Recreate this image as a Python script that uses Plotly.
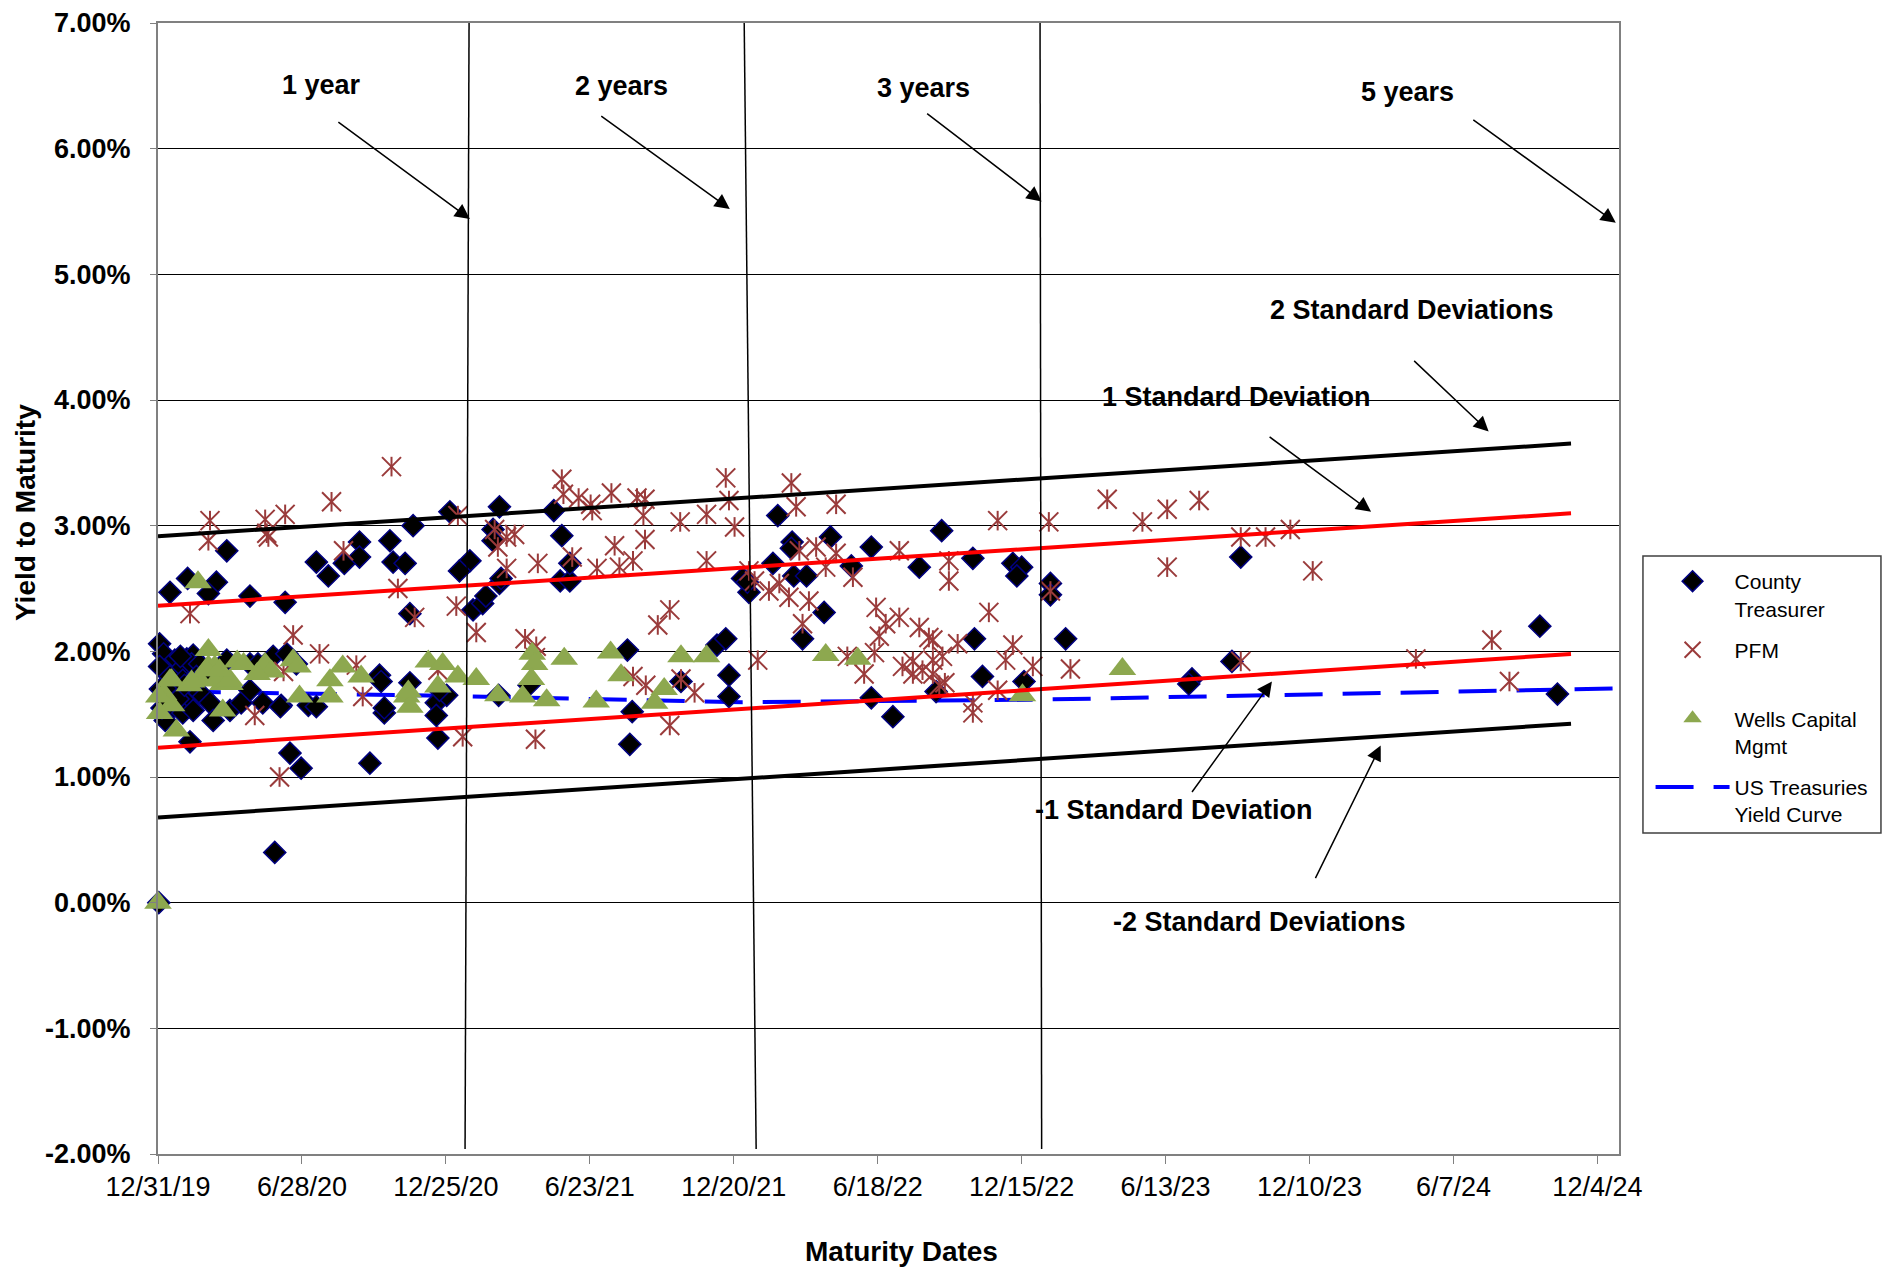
import plotly.graph_objects as go

FONT = "Liberation Sans, Arial, sans-serif"

# maturity date, yield to maturity (%)
county = [
    ("2020-01-02", 2.06), ("2020-01-15", 2.47), ("2020-02-06", 2.58), ("2020-03-13", 2.55),
    ("2020-03-03", 2.46), ("2020-03-26", 2.80), ("2020-04-24", 2.44), ("2020-06-07", 2.39),
    ("2020-07-16", 2.71), ("2020-07-31", 2.60), ("2020-08-20", 2.70), ("2020-09-08", 2.87),
    ("2020-09-08", 2.75), ("2020-10-16", 2.88), ("2020-10-20", 2.71), ("2020-11-04", 2.70),
    ("2020-11-14", 3.00), ("2020-11-10", 2.30), ("2020-12-30", 3.11), ("2021-01-24", 2.72),
    ("2021-01-11", 2.64), ("2021-01-28", 2.33), ("2021-02-09", 2.38), ("2021-02-13", 2.44),
    ("2021-03-02", 2.54), ("2021-03-04", 2.58), ("2021-03-02", 3.15), ("2021-02-22", 2.97),
    ("2021-02-22", 2.88), ("2021-05-09", 3.12), ("2021-05-19", 2.92), ("2021-05-17", 2.56),
    ("2021-05-29", 2.56), ("2021-05-29", 2.70),
    ("2020-01-07", 1.98), ("2020-01-21", 1.93), ("2020-02-05", 1.94), ("2020-02-13", 1.97),
    ("2020-01-09", 1.85), ("2020-01-27", 1.85), ("2020-02-11", 1.90), ("2020-02-21", 1.90),
    ("2020-01-02", 1.88), ("2020-01-15", 1.80), ("2020-01-31", 1.77), ("2020-02-17", 1.80),
    ("2020-01-23", 1.69), ("2020-02-09", 1.69), ("2020-02-21", 1.67), ("2020-01-19", 1.61),
    ("2020-02-05", 1.59), ("2020-02-26", 1.64), ("2020-01-15", 1.53), ("2020-01-31", 1.51),
    ("2020-01-09", 1.45), ("2020-02-13", 1.53), ("2020-03-05", 1.59), ("2020-03-09", 1.45),
    ("2020-03-26", 1.93), ("2020-03-30", 1.53), ("2020-04-13", 1.59), ("2020-04-24", 1.69),
    ("2020-04-24", 1.90), ("2020-05-04", 1.90), ("2020-05-10", 1.59), ("2020-05-23", 1.96),
    ("2020-06-02", 1.57), ("2020-06-09", 1.98), ("2020-06-21", 1.90), ("2020-07-06", 1.57),
    ("2020-07-16", 1.56), ("2020-02-09", 1.28), ("2020-01-03", 1.70), ("2020-01-05", 1.55),
    ("2020-01-12", 1.72), ("2020-01-25", 1.62), ("2020-02-02", 1.73), ("2020-01-28", 1.96),
    ("2020-02-28", 1.83),
    ("2020-10-03", 1.81), ("2020-10-05", 1.76), ("2020-10-09", 1.51), ("2020-10-09", 1.55),
    ("2020-12-13", 1.59), ("2020-12-13", 1.49), ("2020-12-26", 1.65), ("2020-12-15", 1.31),
    ("2020-12-17", 1.69), ("2020-11-10", 1.75), ("2020-06-13", 1.19), ("2020-06-27", 1.07),
    ("2020-09-21", 1.11), ("2020-05-25", 0.40), ("2020-01-01", 0.00), ("2020-06-01", 1.56),
    ("2021-03-01", 1.65), ("2021-04-08", 1.73), ("2021-08-09", 2.01), ("2021-08-12", 1.26),
    ("2021-08-15", 1.52), ("2021-11-29", 2.05), ("2021-12-10", 2.10), ("2021-12-14", 1.81),
    ("2021-12-14", 1.64), ("2021-10-15", 1.76),
    ("2022-02-13", 3.08), ("2022-03-03", 2.87), ("2022-03-02", 2.82), ("2022-02-07", 2.70),
    ("2022-03-05", 2.60), ("2022-03-21", 2.60), ("2022-04-20", 2.91), ("2022-05-16", 2.68),
    ("2022-06-10", 2.83), ("2021-12-31", 2.58), ("2022-01-08", 2.47), ("2022-01-06", 2.55),
    ("2022-04-12", 2.31), ("2022-03-16", 2.10), ("2022-08-09", 2.67), ("2022-09-06", 2.96),
    ("2022-10-15", 2.74), ("2022-12-04", 2.70), ("2022-12-15", 2.67), ("2022-12-09", 2.60),
    ("2023-01-20", 2.54), ("2023-01-20", 2.45), ("2022-10-17", 2.10), ("2023-02-08", 2.10),
    ("2022-06-10", 1.63), ("2022-07-07", 1.48), ("2022-08-30", 1.68), ("2022-10-27", 1.80),
    ("2022-12-18", 1.76), ("2023-09-15", 2.75), ("2023-09-04", 1.92), ("2023-07-16", 1.78),
    ("2023-07-12", 1.74), ("2024-09-23", 2.20), ("2024-10-15", 1.66),
]

pfm = [
    ("2020-02-09", 2.30), ("2020-03-05", 3.04), ("2020-03-03", 2.88), ("2020-05-13", 3.05),
    ("2020-05-17", 2.91), ("2020-05-15", 2.94), ("2020-06-07", 3.09), ("2020-08-04", 3.19),
    ("2020-10-18", 3.47), ("2020-08-19", 2.80), ("2020-06-17", 2.13), ("2020-07-20", 1.98),
    ("2020-10-26", 2.50), ("2020-11-16", 2.27), ("2021-01-09", 3.08), ("2021-01-07", 2.36),
    ("2021-02-01", 2.15), ("2021-02-24", 2.97), ("2021-02-28", 2.83), ("2021-03-11", 2.91),
    ("2021-03-21", 2.93), ("2021-03-11", 2.66), ("2021-04-19", 2.70), ("2021-05-19", 3.37),
    ("2021-05-21", 3.25), ("2021-06-09", 3.22), ("2021-06-24", 3.17), ("2021-06-26", 3.12),
    ("2021-07-20", 3.26), ("2021-06-01", 2.75), ("2021-07-02", 2.66), ("2021-07-24", 2.84),
    ("2021-07-30", 2.67), ("2021-08-16", 2.72), ("2021-04-03", 2.10), ("2021-04-17", 2.04),
    ("2021-04-16", 1.30), ("2021-01-15", 1.32), ("2020-04-30", 1.49), ("2020-05-31", 1.00),
    ("2020-09-12", 1.64), ("2020-09-04", 1.89), ("2020-06-05", 1.84), ("2021-04-16", 1.95),
    ("2020-12-15", 1.85), ("2021-08-16", 1.80), ("2021-09-01", 1.73), ("2021-10-15", 1.78),
    ("2021-11-01", 1.67), ("2021-10-01", 1.41), ("2021-09-16", 2.21), ("2021-10-01", 2.33),
    ("2021-08-21", 3.22), ("2021-08-31", 3.21), ("2021-08-29", 3.08), ("2021-08-31", 2.89),
    ("2021-10-14", 3.03), ("2021-11-16", 3.09), ("2021-12-10", 3.38), ("2021-12-14", 3.20),
    ("2021-12-21", 2.99), ("2021-11-16", 2.72), ("2022-01-19", 1.93), ("2022-03-02", 3.34),
    ("2022-03-08", 3.15), ("2022-04-27", 3.17), ("2022-01-08", 2.64), ("2022-01-15", 2.56),
    ("2022-02-02", 2.48), ("2022-02-15", 2.54), ("2022-02-27", 2.43), ("2022-03-24", 2.40),
    ("2022-03-12", 2.80), ("2022-04-02", 2.83), ("2022-04-14", 2.67), ("2022-04-27", 2.78),
    ("2022-05-18", 2.59), ("2022-03-16", 2.22), ("2022-06-16", 2.35), ("2022-06-28", 2.22),
    ("2022-06-20", 2.12), ("2022-07-15", 2.27), ("2022-07-15", 2.80), ("2022-08-09", 2.19),
    ("2022-08-26", 2.09), ("2022-09-26", 2.06), ("2022-11-04", 2.31), ("2022-09-15", 2.72),
    ("2022-09-15", 2.56), ("2022-11-15", 3.04), ("2023-01-18", 3.03), ("2023-04-01", 3.21),
    ("2023-05-15", 3.03), ("2023-01-20", 2.48), ("2022-05-11", 1.96), ("2022-06-01", 1.82),
    ("2022-06-14", 1.99), ("2022-08-01", 1.92), ("2022-08-01", 1.82), ("2022-08-26", 1.93),
    ("2022-08-26", 1.82), ("2022-09-07", 1.96), ("2022-09-03", 1.73), ("2022-10-15", 1.59),
    ("2022-10-15", 1.51), ("2022-11-15", 1.69), ("2022-11-25", 1.93), ("2022-12-04", 2.05),
    ("2022-12-29", 1.88), ("2023-02-14", 1.86), ("2022-08-21", 2.11), ("2022-07-19", 1.88),
    ("2022-08-13", 1.85), ("2022-09-10", 1.75), ("2023-06-15", 3.13), ("2023-07-25", 3.20),
    ("2023-06-15", 2.67), ("2023-09-15", 2.91), ("2023-10-16", 2.91), ("2023-11-16", 2.97),
    ("2023-12-14", 2.64), ("2023-09-15", 1.92), ("2024-04-21", 1.94), ("2024-07-25", 2.09),
    ("2024-08-16", 1.76),
]

wells = [
    ("2019-12-31", 0.00), ("2020-02-19", 2.55), ("2020-03-03", 2.01), ("2020-03-03", 1.88),
    ("2020-03-11", 1.88), ("2020-03-21", 1.74), ("2020-03-30", 1.74), ("2020-02-21", 1.77),
    ("2020-02-08", 1.73), ("2020-01-17", 1.77), ("2020-01-07", 1.66), ("2020-01-17", 1.57),
    ("2020-01-02", 1.51), ("2020-01-01", 1.64), ("2020-01-23", 1.37), ("2020-04-08", 1.92),
    ("2020-04-16", 1.90), ("2020-05-13", 1.90), ("2020-05-21", 1.84), ("2020-05-03", 1.82),
    ("2020-06-17", 1.93), ("2020-06-23", 1.88), ("2020-03-21", 1.53), ("2020-06-25", 1.64),
    ("2020-08-02", 1.77), ("2020-08-02", 1.64), ("2020-08-18", 1.88), ("2020-09-10", 1.80),
    ("2020-11-06", 1.64), ("2020-11-10", 1.56), ("2020-11-08", 1.68), ("2020-12-03", 1.92),
    ("2020-12-21", 1.90), ("2021-01-09", 1.80), ("2021-02-01", 1.78), ("2020-12-15", 1.72),
    ("2021-02-28", 1.65), ("2021-03-31", 1.64), ("2021-04-12", 1.98), ("2021-04-15", 1.90),
    ("2021-04-11", 1.78), ("2021-04-30", 1.61), ("2021-05-22", 1.94), ("2021-07-01", 1.60),
    ("2021-07-19", 1.99), ("2021-08-01", 1.81), ("2020-01-15", 1.77), ("2020-02-11", 1.76),
    ("2020-03-13", 1.77), ("2020-03-30", 1.77), ("2020-02-29", 1.85), ("2020-03-17", 1.85),
    ("2021-09-12", 1.59), ("2021-09-24", 1.70), ("2021-10-15", 1.96), ("2021-11-16", 1.96),
    ("2022-04-14", 1.97), ("2022-05-24", 1.94), ("2022-12-16", 1.65), ("2023-04-20", 1.86),
]

treasury_dates = ["2020-01-31", "2020-03-31", "2020-06-30", "2020-12-31",
                  "2021-12-31", "2022-12-31", "2024-12-31"]
treasury_yields = [1.68, 1.675, 1.665, 1.645, 1.595, 1.615, 1.705]

band_dates = ["2019-12-31", "2024-11-01"]
plus_2sd = [2.916, 3.653]
plus_1sd = [2.362, 3.098]
minus_1sd = [1.233, 1.979]
minus_2sd = [0.678, 1.424]

y_ticks = [-2, -1, 0, 1, 2, 3, 4, 5, 6, 7]
y_ticklabels = ["-2.00%", "-1.00%", "0.00%", "1.00%", "2.00%",
                "3.00%", "4.00%", "5.00%", "6.00%", "7.00%"]

county_x, county_y = zip(*county)
pfm_x, pfm_y = zip(*pfm)
wells_x, wells_y = zip(*wells)

fig = go.Figure()

fig.add_trace(go.Scatter(
    x=treasury_dates, y=treasury_yields, mode="lines", name="US Treasuries<br>Yield Curve",
    line=dict(color="#0000FF", width=4, dash="38px,20px"),
    legendgroup="ust", legendrank=4))

fig.add_trace(go.Scatter(
    x=county_x, y=county_y, mode="markers", name="County<br>Treasurer", cliponaxis=False,
    marker=dict(symbol="diamond", size=17, color="black", line=dict(color="#000080", width=1.5)),
    legendgroup="county", legendrank=1))

# Excel-style asterisk: an X plus a vertical bar
fig.add_trace(go.Scatter(
    x=pfm_x, y=pfm_y, mode="markers", name="PFM<br>\u00a0",
    marker=dict(symbol="x-thin-open", size=19, color="#9A3B3B", line=dict(color="#9A3B3B", width=2)),
    legendgroup="pfm", legendrank=2))
fig.add_trace(go.Scatter(
    x=pfm_x, y=pfm_y, mode="markers", name="PFM", showlegend=False,
    marker=dict(symbol="line-ns-open", size=14, color="#9A3B3B", line=dict(color="#9A3B3B", width=2)),
    legendgroup="pfm"))

fig.add_trace(go.Scatter(
    x=wells_x, y=wells_y, mode="markers", name="Wells Capital<br>Mgmt", cliponaxis=False,
    marker=dict(symbol="triangle-up", size=24, color="#8DA84F", line=dict(width=0)),
    legendgroup="wells", legendrank=3))

for vals, col in [(plus_2sd, "black"), (plus_1sd, "#FF0000"), (minus_1sd, "#FF0000"), (minus_2sd, "black")]:
    fig.add_trace(go.Scatter(x=band_dates, y=vals, mode="lines", showlegend=False,
                             line=dict(color=col, width=4), hoverinfo="skip"))

# hand-drawn maturity markers
for top, bottom in [("2021-01-23", "2021-01-18"), ("2022-01-02", "2022-01-17"), ("2023-01-07", "2023-01-09")]:
    fig.add_shape(type="line", xref="x", yref="y", x0=top, y0=7.03, x1=bottom, y1=-1.96,
                  line=dict(color="black", width=1.5))

labels = [
    ("1 year", "2020-07-23", 6.51), ("2 years", "2021-08-01", 6.50),
    ("3 years", "2022-08-14", 6.48), ("5 years", "2024-04-11", 6.45),
    ("2 Standard Deviations", "2024-04-16", 4.72), ("1 Standard Deviation", "2023-09-10", 4.02),
    ("-1 Standard Deviation", "2023-06-24", 0.74), ("-2 Standard Deviations", "2023-10-09", -0.15),
]
for txt, x, y in labels:
    fig.add_annotation(text=txt, x=x, y=y, xref="x", yref="y", showarrow=False,
                       xanchor="center", yanchor="middle",
                       font=dict(family=FONT, size=27, color="black", weight="bold"))

arrows = [
    ("2021-01-24", 5.44, -133, -98), ("2021-12-15", 5.52, -130, -94),
    ("2023-01-09", 5.58, -116, -89), ("2024-12-27", 5.41, -144, -104),
    ("2024-07-21", 3.75, -76, -72), ("2024-02-25", 3.11, -103, -76),
    ("2023-10-24", 1.76, -81, 112), ("2024-03-08", 1.25, -66, 134),
]
for x, y, ax, ay in arrows:
    fig.add_annotation(text="", x=x, y=y, xref="x", yref="y", ax=ax, ay=ay,
                       showarrow=True, arrowhead=2, arrowsize=2, arrowwidth=1.5, arrowcolor="black")

fig.add_annotation(text="Yield to Maturity", xref="paper", yref="paper", x=-0.0903, y=0.5668,
                   xanchor="center", yanchor="middle", textangle=-90, showarrow=False,
                   font=dict(family=FONT, size=28, color="black", weight="bold"))
fig.add_annotation(text="Maturity Dates", xref="paper", yref="paper", x=0.5092, y=-0.0866,
                   xanchor="center", yanchor="middle", showarrow=False,
                   font=dict(family=FONT, size=28, color="black", weight="bold"))

# legend frame
fig.add_shape(type="rect", xref="paper", yref="paper", x0=1.0164, x1=1.1793, y0=0.2838, y1=0.5287,
              line=dict(color="#404040", width=1.5), fillcolor="rgba(0,0,0,0)")

fig.update_xaxes(
    type="date", range=["2019-12-31", "2024-12-31"], tick0="2019-12-31", dtick=180 * 86400000,
    tickformat="%-m/%-d/%y", showgrid=False, zeroline=False, automargin=False,
    showline=True, linecolor="#808080", linewidth=2, mirror=True,
    ticks="outside", ticklen=8, tickcolor="#808080", ticklabelstandoff=0,
    tickfont=dict(family=FONT, size=27, color="black"))
fig.update_yaxes(
    range=[-2, 7], tickvals=y_ticks, ticktext=y_ticklabels, showgrid=True,
    gridcolor="black", gridwidth=1, zeroline=False, automargin=False,
    showline=True, linecolor="#808080", linewidth=2, mirror=True,
    ticks="outside", ticklen=6, tickcolor="#808080", ticklabelstandoff=14,
    ticklabeloverflow="allow",
    tickfont=dict(family=FONT, size=27, color="black", weight="bold"))

# the page body adds an 8px offset, so the figure is 8px smaller on each axis
fig.update_layout(
    width=1884, height=1262, paper_bgcolor="white", plot_bgcolor="white",
    margin=dict(l=150, r=273, t=15, b=116),
    showlegend=True,
    legend=dict(x=1.0216, y=0.5243, xanchor="left", yanchor="top", traceorder="grouped",
                tracegroupgap=11, valign="top", itemwidth=74, borderwidth=0,
                bgcolor="rgba(0,0,0,0)", font=dict(family=FONT, size=21, color="black")),
)

fig.write_html("out.html")
